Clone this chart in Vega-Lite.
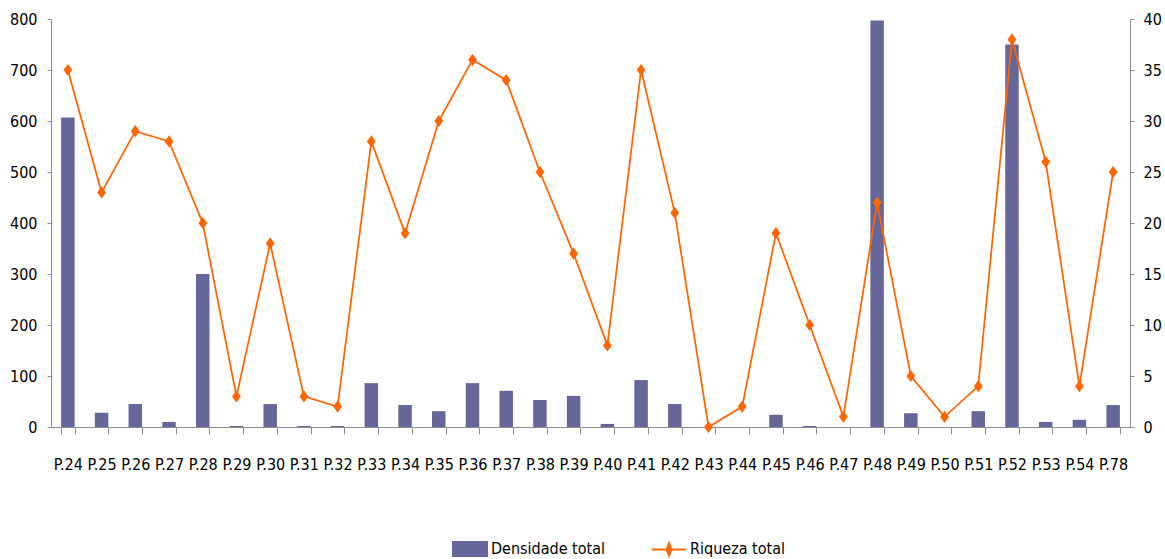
{
  "$schema": "https://vega.github.io/schema/vega-lite/v6.json",
  "autosize": {"type": "none"},
  "padding": {"left": 51, "top": 19, "right": 35, "bottom": 132},
  "width": 1079,
  "height": 408,
  "background": "white",
  "config": {
    "font": "DejaVu Sans Condensed, Roboto, sans-serif",
    "view": {"stroke": null},
    "axis": {"grid": false, "domainColor": "#8c8c8c", "tickColor": "#8c8c8c", "labelColor": "#000000", "labelFont": "DejaVu Sans Condensed, Roboto, sans-serif", "labelFontSize": 16, "title": null},
    "legend": {"labelFont": "DejaVu Sans Condensed, Roboto, sans-serif", "labelFontSize": 16, "labelColor": "#000000"}
  },
  "data": {
    "values": [
      {"p": "P.24", "dens": 607, "riq": 35},
      {"p": "P.25", "dens": 28, "riq": 23},
      {"p": "P.26", "dens": 45, "riq": 29},
      {"p": "P.27", "dens": 10, "riq": 28},
      {"p": "P.28", "dens": 300, "riq": 20},
      {"p": "P.29", "dens": 2, "riq": 3},
      {"p": "P.30", "dens": 45, "riq": 18},
      {"p": "P.31", "dens": 2, "riq": 3},
      {"p": "P.32", "dens": 2, "riq": 2},
      {"p": "P.33", "dens": 86, "riq": 28},
      {"p": "P.34", "dens": 43, "riq": 19},
      {"p": "P.35", "dens": 31, "riq": 30},
      {"p": "P.36", "dens": 86, "riq": 36},
      {"p": "P.37", "dens": 71, "riq": 34},
      {"p": "P.38", "dens": 53, "riq": 25},
      {"p": "P.39", "dens": 61, "riq": 17},
      {"p": "P.40", "dens": 6, "riq": 8},
      {"p": "P.41", "dens": 92, "riq": 35},
      {"p": "P.42", "dens": 45, "riq": 21},
      {"p": "P.43", "dens": 0, "riq": 0},
      {"p": "P.44", "dens": 0, "riq": 2},
      {"p": "P.45", "dens": 24, "riq": 19},
      {"p": "P.46", "dens": 2, "riq": 10},
      {"p": "P.47", "dens": 0, "riq": 1},
      {"p": "P.48", "dens": 797, "riq": 22},
      {"p": "P.49", "dens": 27, "riq": 5},
      {"p": "P.50", "dens": 0, "riq": 1},
      {"p": "P.51", "dens": 31, "riq": 4},
      {"p": "P.52", "dens": 750, "riq": 38},
      {"p": "P.53", "dens": 10, "riq": 26},
      {"p": "P.54", "dens": 14, "riq": 4},
      {"p": "P.78", "dens": 43, "riq": 25}
    ]
  },
  "encoding": {
    "x": {
      "field": "p",
      "type": "nominal",
      "sort": null,
      "scale": {"paddingInner": 0.6, "paddingOuter": 0.3},
      "axis": {
        "labelAngle": 0,
        "tickBand": "extent",
        "tickSize": 7,
        "labelPadding": 22,
        "encode": {"ticks": {"update": {"y": {"value": -7}, "y2": {"value": 7}}}}
      }
    },
    "color": {
      "scale": {"domain": ["Densidade total", "Riqueza total"], "range": ["#666699", "#ff6600"]},
      "legend": {
        "title": null,
        "orient": "none",
        "direction": "horizontal",
        "legendX": 401,
        "legendY": 512,
        "symbolSize": 1156,
        "labelOffset": 3,
        "columnPadding": 42,
        "encode": {
          "symbols": {
            "update": {
              "shape": [
                {"test": "datum.value === 'Riqueza total'", "value": "M-1,0H1M0,-0.36L0.14,0L0,0.36L-0.14,0Z"},
                {"value": "M-1,-0.41H1V0.41H-1Z"}
              ],
              "fill": [
                {"test": "datum.value === 'Riqueza total'", "value": "#ff6600"},
                {"value": "#666699"}
              ],
              "stroke": [
                {"test": "datum.value === 'Riqueza total'", "value": "#ff6600"},
                {"value": "transparent"}
              ],
              "strokeWidth": {"value": 2},
              "size": {"value": 1156},
              "opacity": {"value": 1},
              "fillOpacity": {"value": 1},
              "strokeOpacity": {"value": 1}
            }
          }
        }
      }
    }
  },
  "layer": [
    {
      "mark": {"type": "bar", "color": "#666699"},
      "encoding": {
        "y": {
          "field": "dens",
          "type": "quantitative",
          "scale": {"domain": [0, 800], "nice": false},
          "axis": {
            "orient": "left",
            "values": [0, 100, 200, 300, 400, 500, 600, 700, 800],
            "tickSize": 4,
            "labelPadding": 10,
            "encode": {"ticks": {"update": {"x": {"value": -4}, "x2": {"value": 4}}}}
          }
        },
        "color": {"datum": "Densidade total"}
      }
    },
    {
      "encoding": {
        "y": {
          "field": "riq",
          "type": "quantitative",
          "scale": {"domain": [0, 40], "nice": false},
          "axis": {
            "orient": "right",
            "values": [0, 5, 10, 15, 20, 25, 30, 35, 40],
            "tickSize": 4,
            "labelPadding": 9,
            "encode": {"ticks": {"update": {"x": {"value": -4}, "x2": {"value": 4}}}}
          }
        },
        "color": {"datum": "Riqueza total"}
      },
      "layer": [
        {"mark": {"type": "line", "strokeWidth": 1.75, "color": "#ff6600"}},
        {"mark": {"type": "point", "filled": true, "opacity": 1, "size": 150, "shape": "M0,-1L0.72,0L0,1L-0.72,0Z", "color": "#ff6600"}}
      ]
    }
  ],
  "resolve": {"scale": {"y": "independent"}}
}
